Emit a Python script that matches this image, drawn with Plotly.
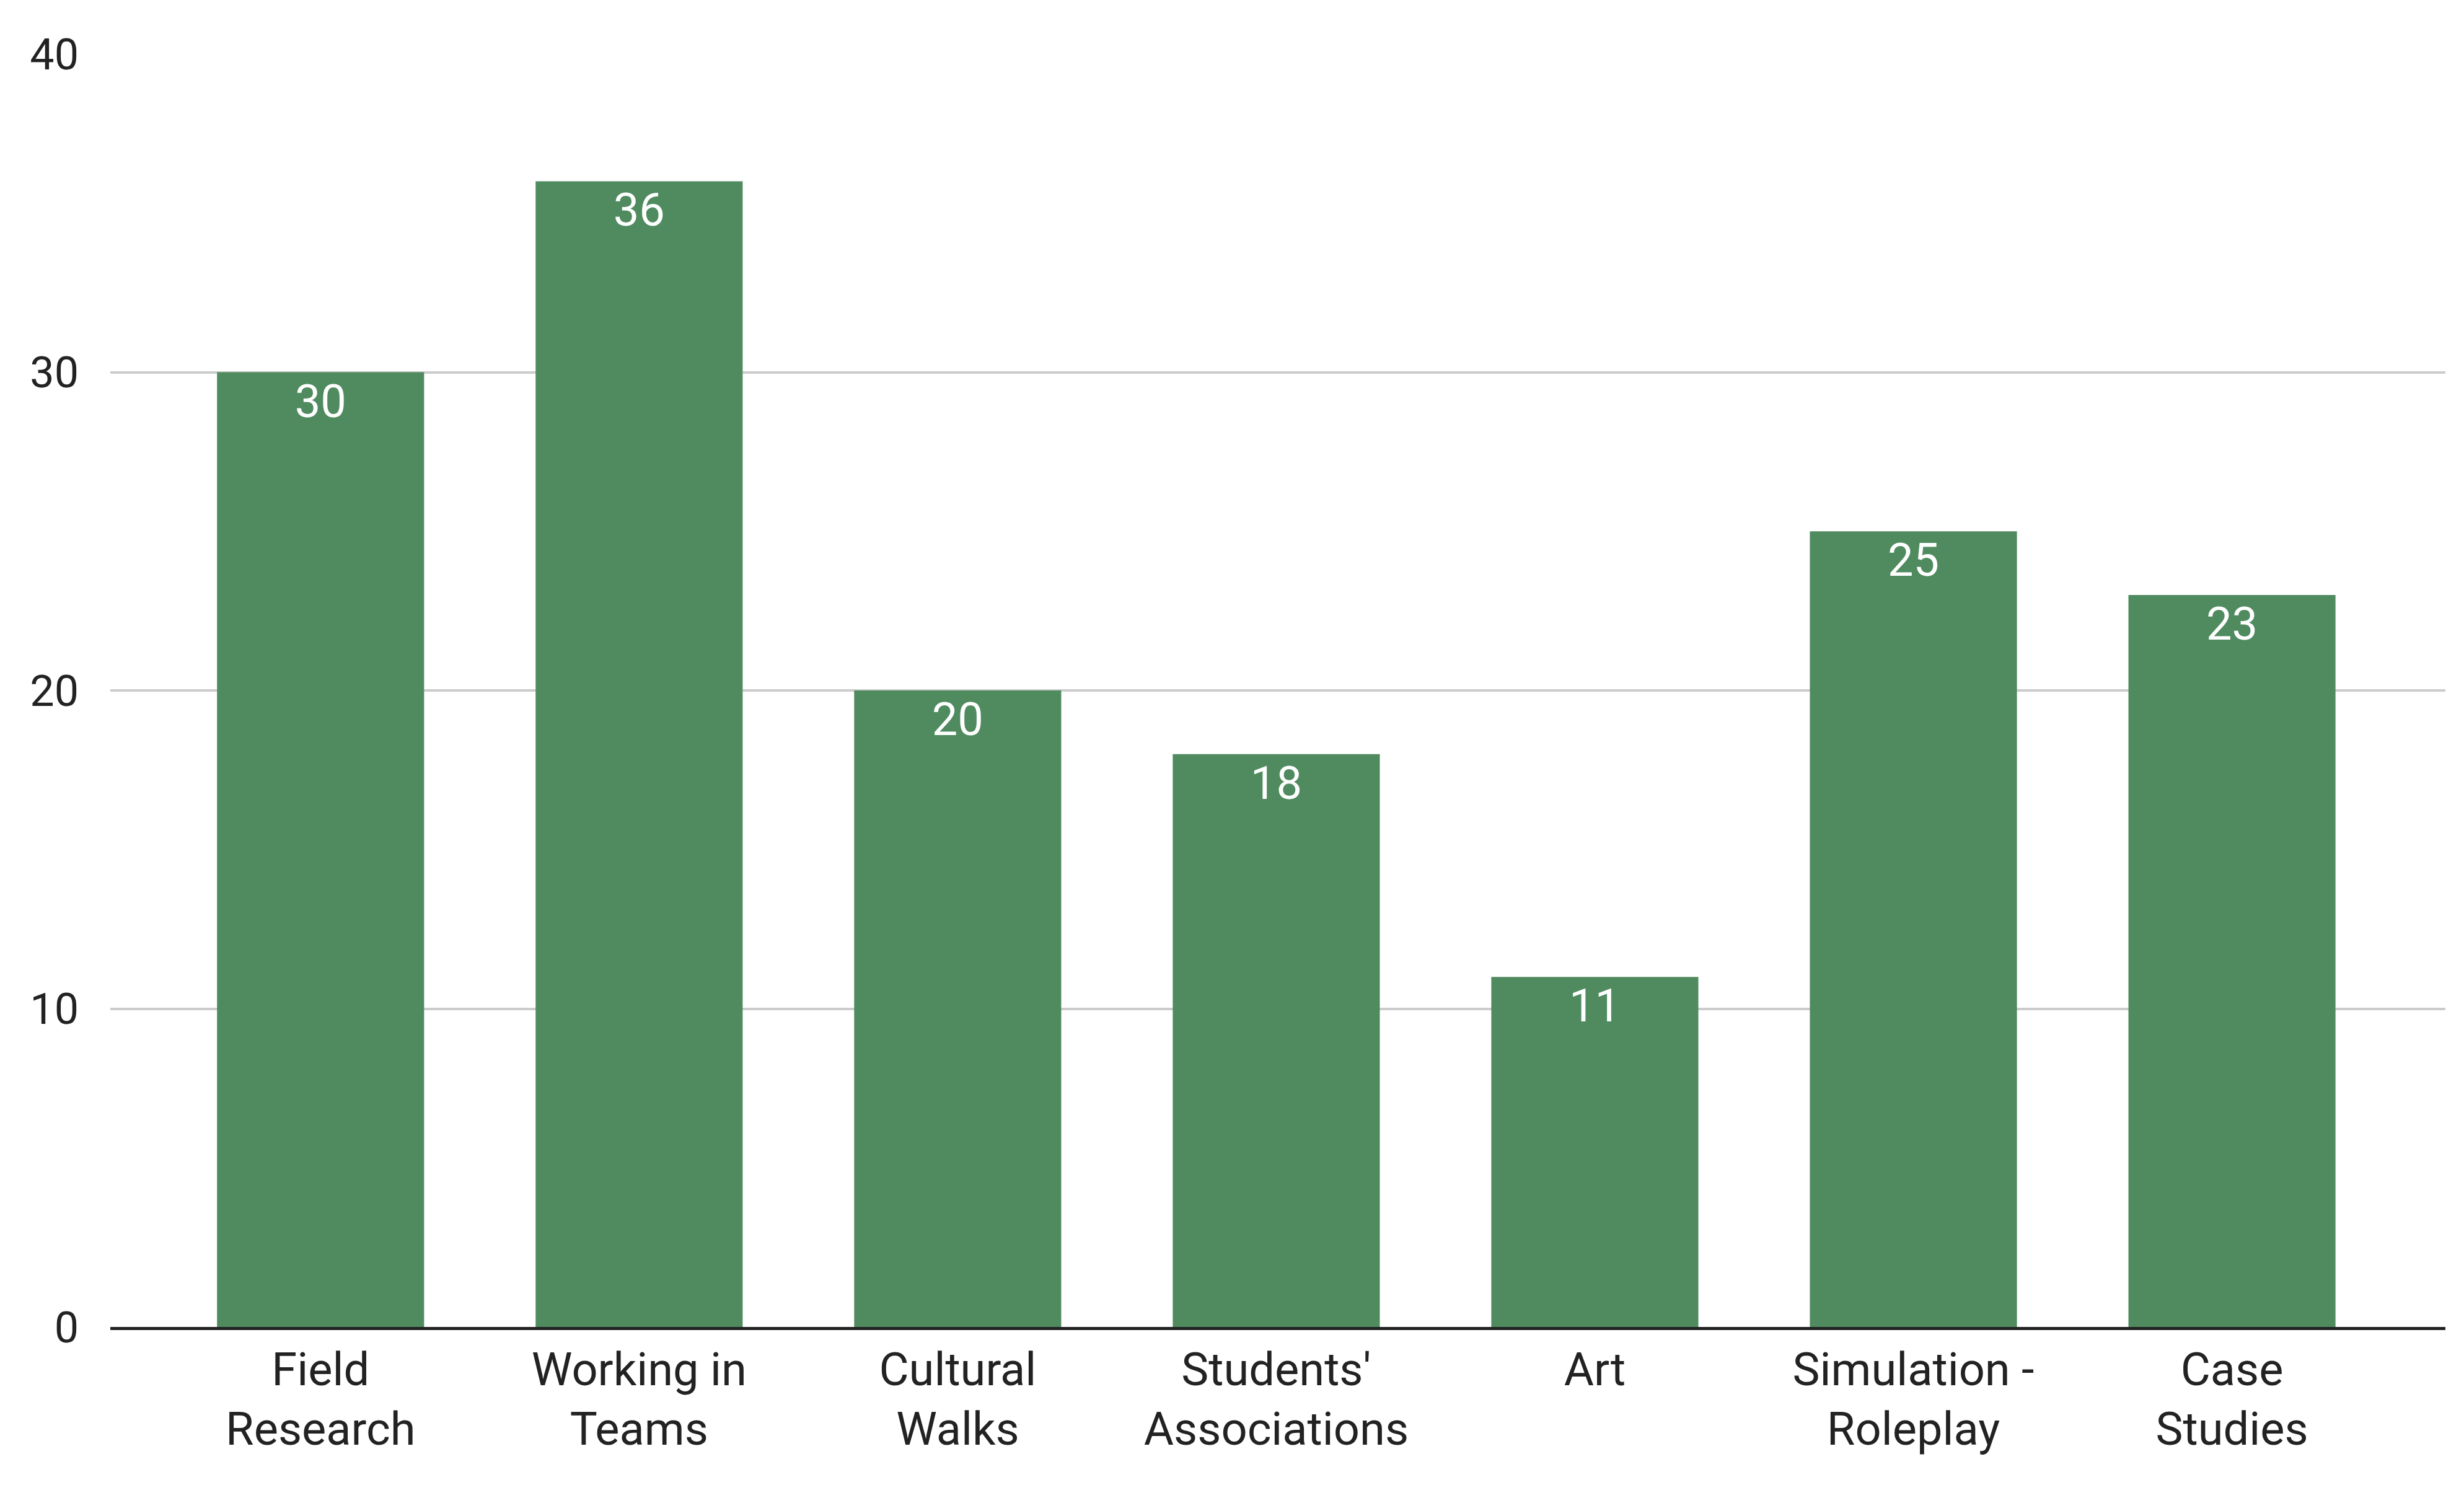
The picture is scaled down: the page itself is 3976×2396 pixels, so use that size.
import plotly.graph_objects as go

categories = ["Field<br>Research", "Working in<br>Teams", "Cultural<br>Walks", "Students'<br>Associations",
              "Art", "Simulation -<br>Roleplay", "Case<br>Studies"]
values = [30, 36, 20, 18, 11, 25, 23]
y_ticks = [0, 10, 20, 30, 40]

fig = go.Figure(go.Bar(
    x=list(range(len(categories))), y=values, text=[str(v) for v in values],
    textposition="inside", insidetextanchor="end",
    textfont=dict(color="white", size=74, family="Roboto"),
    marker=dict(color="#4f8b5f", line=dict(width=0)),
    width=0.65,
))
fig.update_layout(
    width=3976, height=2396, plot_bgcolor="white", paper_bgcolor="white",
    margin=dict(l=170, r=38, t=79, b=263), showlegend=False,
    font=dict(family="Roboto", color="#222222"),
    uniformtext=dict(mode=False),
)
fig.update_xaxes(tickmode="array", tickvals=list(range(len(categories))), ticktext=categories,
                 range=[-0.66, 6.67], tickfont=dict(size=74), showline=True, linecolor="#222222",
                 linewidth=5, ticks="", showgrid=False)
fig.update_yaxes(range=[0, 40], tickvals=y_ticks, tickfont=dict(size=70), gridcolor="#cccccc",
                 gridwidth=4, zeroline=False, ticks="", ticklabelstandoff=50)
fig.write_html("out.html")
